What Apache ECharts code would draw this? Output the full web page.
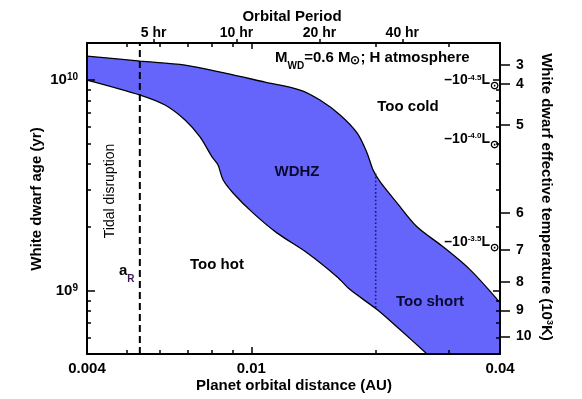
<!DOCTYPE html>
<html><head><meta charset="utf-8">
<script src="https://cdn.jsdelivr.net/npm/echarts@6/dist/echarts.min.js"></script>
<style>html,body{margin:0;padding:0;background:#fff}#c{width:582px;height:399px}</style>
</head><body><div id="c"></div>
<script>
// ---------- data ----------
const upperA   = [0.004, 0.00538, 0.00691, 0.00864, 0.01079, 0.01312, 0.01466, 0.0164, 0.01803, 0.01906, 0.0197, 0.02049, 0.02252, 0.02518, 0.02911, 0.03384, 0.04];
const upperAge = [1.30e10, 1.23e10, 1.178e10, 1.079e10, 9.78e9, 8.97e9, 8.04e9, 6.83e9, 5.61e9, 4.51e9, 3.75e9, 3.29e9, 2.61e9, 2.01e9, 1.616e9, 1.258e9, 8.77e8];
const lowerA   = [0.004, 0.00538, 0.00618, 0.00691, 0.00751, 0.00803, 0.0083, 0.00854, 0.00903, 0.01009, 0.01153, 0.01364, 0.01612, 0.01734, 0.02015, 0.0229, 0.02663];
const lowerAge = [1.0e10, 8.49e9, 7.61e9, 6.46e9, 5.37e9, 4.32e9, 3.96e9, 3.36e9, 2.91e9, 2.34e9, 1.88e9, 1.514e9, 1.165e9, 1.011e9, 8.13e8, 6.53e8, 5.0e8];
const aRoche = 0.00537;                 // tidal disruption distance (AU)
const dottedA = 0.02;                    // dotted line position (AU)
const dottedAge = [8.3e8, 3.6e9];
const xRange = [0.004, 0.04];
const yRange = [5e8, 1.5e10];
const xLabelVals = [0.004, 0.01, 0.04];
const xMajorTicks = [0.01];
const xMinorTicks = [0.005, 0.006, 0.007, 0.008, 0.009, 0.02, 0.03];
const yLabelVals = [1e9, 1e10];
const yMinorTicks = [6e8, 7e8, 8e8, 9e8, 2e9, 3e9, 4e9, 5e9, 6e9, 7e9, 8e9, 9e9];
const periodHours = [5, 10, 20, 40];
const wdMass = 0.6;
const tempLabels = [3, 4, 5, 6, 7, 8, 9, 10];
const tempAge = [1.178e10, 9.57e9, 6.12e9, 2.34e9, 1.564e9, 1.103e9, 8.04e8, 6.05e8];
const lumLabels = ['-4.5', '-4.0', '-3.5'];
const lumAge = [9.95e9, 5.25e9, 1.70e9];

// ---------- helpers ----------
const L = Math.log10;
const F = "'Liberation Sans', Arial, Helvetica, sans-serif";
const BLUE = '#6565fb';
const periodToA = p => Math.pow(Math.pow(p / 8766, 2) * wdMass, 1 / 3);
const xMin = L(xRange[0]), xMax = L(xRange[1]), yMin = L(yRange[0]), yMax = L(yRange[1]);
const nearest = (arr, v) => { let b = 0, d = Infinity; arr.forEach((t, i) => { const dd = Math.abs(t - v); if (dd < d) { d = dd; b = i; } }); return b; };

const upperPts = upperA.map((a, i) => [L(a), L(upperAge[i])]);
const lowerPts = lowerA.map((a, i) => [L(a), L(lowerAge[i])]);

const lineAx = { show: true, onZero: false, lineStyle: { color: '#000', width: 2 } };
const noLine = { show: false };
function xAx(pos, opts) {
  return Object.assign({ type: 'value', position: pos, min: xMin, max: xMax, splitLine: { show: false },
    axisLine: lineAx, axisLabel: { show: false }, axisTick: { show: false }, z: 10 }, opts);
}
function yAx(pos, opts) {
  return Object.assign({ type: 'value', position: pos, min: yMin, max: yMax, splitLine: { show: false },
    axisLine: lineAx, axisLabel: { show: false }, axisTick: { show: false }, z: 10 }, opts);
}
const tick = (vals, len, inside) => ({ show: true, inside: inside, length: len, customValues: vals, lineStyle: { color: '#000', width: 1.5 } });
const lbl = { fontFamily: F, fontWeight: 'bold', color: '#000' };

const option = {
  animation: false,
  grid: { left: 87, top: 43, right: 82, bottom: 45, containLabel: false },
  xAxis: [
    xAx('bottom', { axisTick: tick(xMajorTicks.map(L), 7, true),
      axisLabel: Object.assign({ show: true, fontSize: 15, margin: 7, customValues: xLabelVals.map(L),
        formatter: v => String(xLabelVals[nearest(xLabelVals.map(L), v)]) }, lbl) }),
    xAx('bottom', { axisLine: noLine, axisTick: tick(xMinorTicks.map(L), 4, true) }),
    xAx('top', { axisTick: tick(xMajorTicks.map(L), 6, true) }),
    xAx('top', { axisLine: noLine, axisTick: tick(xMinorTicks.map(L), 4, true) }),
    xAx('top', { axisLine: noLine, axisTick: tick(periodHours.map(p => L(periodToA(p))), 4, false),
      axisLabel: Object.assign({ show: true, fontSize: 14, margin: 3, customValues: periodHours.map(p => L(periodToA(p))),
        formatter: v => periodHours[nearest(periodHours.map(p => L(periodToA(p))), v)] + ' hr' }, lbl) })
  ],
  yAxis: [
    yAx('left', { axisTick: tick(yLabelVals.map(L), 8, true),
      axisLabel: Object.assign({ show: true, fontSize: 15, margin: 9, customValues: yLabelVals.map(L),
        formatter: v => '10{sup|' + Math.round(v) + '}',
        rich: { sup: Object.assign({ fontSize: 10, verticalAlign: 'top' }, lbl) } }, lbl) }),
    yAx('left', { axisLine: noLine, axisTick: tick(yMinorTicks.map(L), 4, true) }),
    yAx('right', { axisTick: tick(yLabelVals.map(L), 7, true) }),
    yAx('right', { axisLine: noLine, axisTick: tick(yMinorTicks.map(L), 4, true) }),
    yAx('right', { axisLine: noLine, axisTick: tick(tempAge.map(L), 10, false),
      axisLabel: Object.assign({ show: true, fontSize: 14, margin: 16, customValues: tempAge.map(L),
        formatter: v => String(tempLabels[nearest(tempAge.map(L), v)]) }, lbl) })
  ],
  series: [
    { type: 'line', data: upperPts, symbol: 'none', silent: true, z: 1, smooth: 0.3,
      lineStyle: { color: '#000', width: 1.3 }, areaStyle: { color: BLUE, opacity: 1, origin: 'start' } },
    { type: 'line', data: lowerPts, symbol: 'none', silent: true, z: 2, smooth: 0.3,
      lineStyle: { color: '#000', width: 1.3 }, areaStyle: { color: '#fff', opacity: 1, origin: 'start' } },
    { type: 'line', data: [[L(aRoche), yMin], [L(aRoche), yMax]], symbol: 'none', silent: true, z: 5,
      lineStyle: { color: '#000', width: 2, type: [7, 4] } },
    { type: 'line', data: [[L(dottedA), L(dottedAge[0])], [L(dottedA), L(dottedAge[1])]], symbol: 'none', silent: true, z: 5,
      lineStyle: { color: '#1a1a70', width: 1.6, type: [1.6, 2.2] } }
  ],
  graphic: []
};

function txt(x, y, text, o) {
  o = o || {};
  return { type: 'text', x: x, y: y, rotation: o.rot || 0, z: 20, silent: true,
    style: { text: text, fill: o.color || '#000', fontFamily: F, fontWeight: o.weight || 'bold', fontSize: o.size || 15,
      align: o.align || 'center', verticalAlign: 'middle', rich: o.rich } };
}
// base tokens: top-aligned (centre = font/2 from line top); subscripts bottom-aligned in a taller line
const base = (size) => ({ fontFamily: F, fontWeight: 'bold', fontSize: size, verticalAlign: 'top', fill: '#000' });
const low = (size, lh, color, va) => ({ fontFamily: F, fontWeight: 'bold', fontSize: size, lineHeight: lh, verticalAlign: va || 'bottom', fill: color || '#000' });
const supRich = { sup: { fontFamily: F, fontWeight: 'bold', fontSize: 9, verticalAlign: 'top', fill: '#000' } };

option.graphic = [
  txt(292, 17, 'Orbital Period'),
  txt(294, 386, 'Planet orbital distance (AU)'),
  txt(37, 199, 'White dwarf age (yr)', { rot: Math.PI / 2 }),
  txt(546, 197, 'White dwarf effective temperature (10{sup|3}K)', { rot: -Math.PI / 2, rich: supRich }),
  txt(275, 61, '{b|M}{sub|WD}{b|=0.6 M}{sun|⊙}{b|; H atmosphere}', { align: 'left', rich: {
    b: base(15), sub: low(10, 21), sun: low(12, 21, '#000', 'middle') } }),
  txt(408, 107, 'Too cold'),
  txt(297, 172, 'WDHZ', { color: '#0a0a30' }),
  txt(217, 265, 'Too hot'),
  txt(430, 302, 'Too short', { color: '#0a0a30' }),
  txt(110, 191, 'Tidal disruption', { rot: Math.PI / 2, weight: 'normal', size: 14 }),
  txt(119, 274, '{b|a}{sub|R}', { align: 'left', rich: { b: base(15), sub: low(10, 21, '#3a1a50') } })
];

const chart = echarts.init(document.getElementById('c'), null, { renderer: 'canvas' });
chart.setOption(option);

// luminosity labels anchored at the right axis in data coordinates
const lumRich = { b: base(14), sup: base(8), sun: low(11, 18) };
const lumG = lumLabels.map((s, i) => {
  const p = chart.convertToPixel({ xAxisIndex: 0, yAxisIndex: 0 }, [xMax, L(lumAge[i])]);
  return txt(p[0] - 1, p[1] + 2, '{b|–10}{sup|' + s + '}{b|L}{sun|⊙}', { align: 'right', rich: lumRich });
});
chart.setOption({ graphic: option.graphic.concat(lumG) });
</script></body></html>
